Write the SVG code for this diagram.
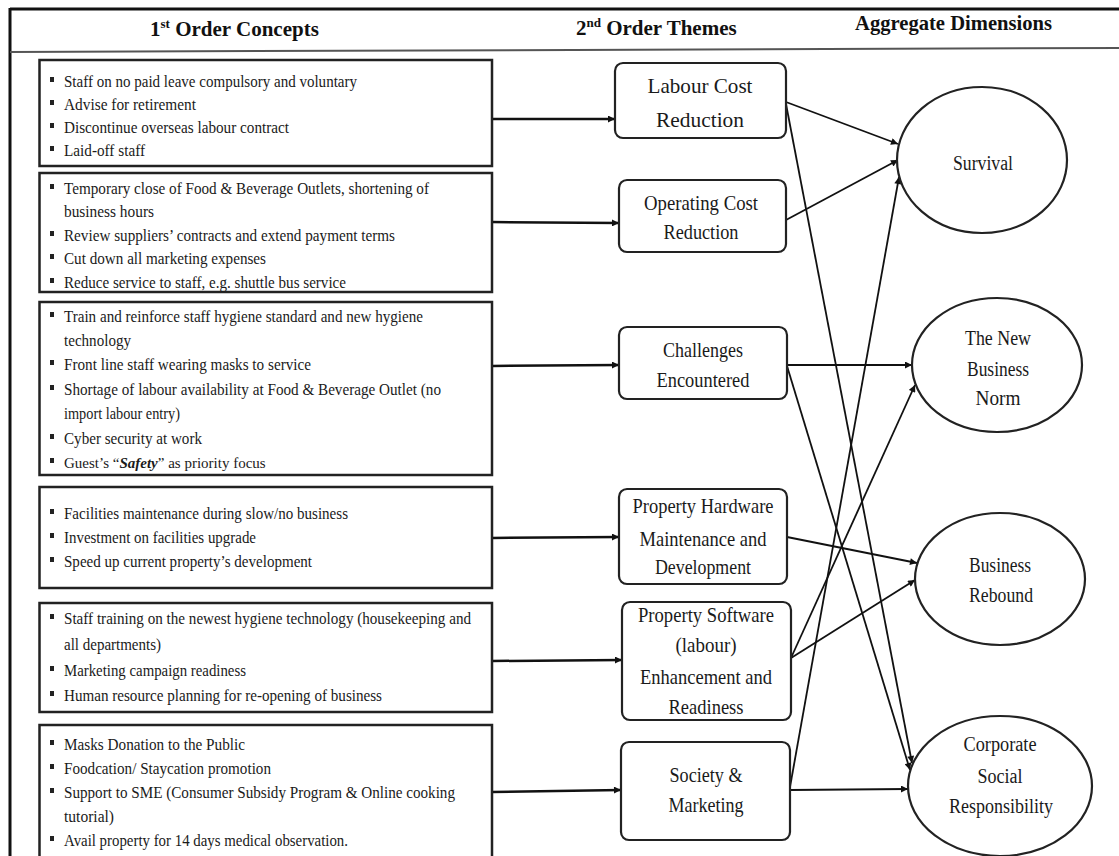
<svg xmlns="http://www.w3.org/2000/svg" width="1119" height="856" viewBox="0 0 1119 856">
<style>
.frame{stroke:#111;stroke-width:3;fill:none}
.sep{stroke:#555;stroke-width:2;fill:none}
.lbox{fill:#fff;stroke:#222;stroke-width:2.5}
.mbox{fill:#fff;stroke:#222;stroke-width:2.2}
.ell{fill:#fff;stroke:#222;stroke-width:2.2}
.hd{font-family:"Liberation Serif","Times New Roman",serif;font-weight:bold;font-size:21px;fill:#111}
.lt{font-family:"Liberation Serif","Times New Roman",serif;font-size:17px;fill:#1a1a1a}
.mt{font-family:"Liberation Serif","Times New Roman",serif;font-size:21px;fill:#1a1a1a;text-anchor:middle}
.et{font-size:20px}
.bul{fill:#222}
.c1{stroke:#111;stroke-width:2.5;fill:none;marker-end:url(#ah)}
.c2{stroke:#111;stroke-width:1.8;fill:none;marker-end:url(#ah)}
</style>
<defs>
<marker id="ah" viewBox="0 0 10 10" refX="10" refY="5" markerWidth="9" markerHeight="7" orient="auto" markerUnits="userSpaceOnUse">
<path d="M0,0 L10,5 L0,10 z" fill="#111"/>
</marker>
</defs>
<rect width="1119" height="856" fill="#fff"/>
<g id="frame">
<line class="frame" x1="10" y1="9" x2="1119" y2="9"/>
<line class="frame" x1="10" y1="8" x2="10" y2="856"/>
<line class="sep" x1="10" y1="52" x2="1119" y2="48"/>
<text class="hd" x="150" y="36">1<tspan font-size="13" dy="-8">st</tspan><tspan dy="8"> Order Concepts</tspan></text>
<text class="hd" x="576" y="35">2<tspan font-size="13" dy="-8">nd</tspan><tspan dy="8"> Order Themes</tspan></text>
<text class="hd" x="855" y="30" textLength="197" lengthAdjust="spacingAndGlyphs">Aggregate Dimensions</text>
</g>
<g id="connectors">
<line class="c1" x1="492" y1="119" x2="615" y2="119"/>
<line class="c1" x1="492" y1="222" x2="619" y2="223"/>
<line class="c1" x1="492" y1="366" x2="619" y2="365"/>
<line class="c1" x1="492" y1="538" x2="619" y2="537"/>
<line class="c1" x1="492" y1="661" x2="622" y2="660"/>
<line class="c1" x1="492" y1="792" x2="621" y2="790"/>
<line class="c2" x1="786" y1="102" x2="898" y2="144"/>
<line class="c2" x1="786" y1="220" x2="898" y2="160"/>
<line class="c2" x1="790" y1="787" x2="899" y2="177"/>
<line class="c2" x1="786" y1="104" x2="912" y2="763"/>
<line class="c2" x1="787" y1="366" x2="910" y2="770"/>
<line class="c2" x1="787" y1="365" x2="912" y2="365"/>
<line class="c2" x1="791" y1="658" x2="915" y2="385"/>
<line class="c2" x1="787" y1="537" x2="917" y2="563"/>
<line class="c2" x1="791" y1="658" x2="915" y2="580"/>
<line class="c2" x1="790" y1="790" x2="908" y2="789"/>
</g>
<g id="c1-labour">
<rect class="lbox" x="39.5" y="60" width="452.5" height="106"/>
<rect class="bul" x="50" y="77" width="4" height="5"/>
<rect class="bul" x="50" y="100" width="4" height="5"/>
<rect class="bul" x="50" y="123" width="4" height="5"/>
<rect class="bul" x="50" y="146" width="4" height="5"/>
<text class="lt" x="64" y="87" textLength="293" lengthAdjust="spacingAndGlyphs">Staff on no paid leave compulsory and voluntary</text>
<text class="lt" x="64" y="110" textLength="132" lengthAdjust="spacingAndGlyphs">Advise  for retirement</text>
<text class="lt" x="64" y="133" textLength="225" lengthAdjust="spacingAndGlyphs">Discontinue overseas labour contract</text>
<text class="lt" x="64" y="156" textLength="81" lengthAdjust="spacingAndGlyphs">Laid-off staff</text>
</g>
<g id="c1-operating">
<rect class="lbox" x="39.5" y="173" width="452.5" height="119"/>
<rect class="bul" x="50" y="184" width="4" height="5"/>
<rect class="bul" x="50" y="231" width="4" height="5"/>
<rect class="bul" x="50" y="254" width="4" height="5"/>
<rect class="bul" x="50" y="278" width="4" height="5"/>
<text class="lt" x="64" y="194" textLength="365" lengthAdjust="spacingAndGlyphs">Temporary close of Food &amp; Beverage Outlets, shortening of</text>
<text class="lt" x="64" y="217" textLength="90" lengthAdjust="spacingAndGlyphs">business hours</text>
<text class="lt" x="64" y="241" textLength="331" lengthAdjust="spacingAndGlyphs">Review suppliers’ contracts and extend payment terms</text>
<text class="lt" x="64" y="264" textLength="202" lengthAdjust="spacingAndGlyphs">Cut down all marketing expenses</text>
<text class="lt" x="64" y="288" textLength="282" lengthAdjust="spacingAndGlyphs">Reduce service to staff, e.g. shuttle bus service</text>
</g>
<g id="c1-challenges">
<rect class="lbox" x="39.5" y="302" width="452.5" height="173"/>
<rect class="bul" x="50" y="312" width="4" height="5"/>
<rect class="bul" x="50" y="360" width="4" height="5"/>
<rect class="bul" x="50" y="385" width="4" height="5"/>
<rect class="bul" x="50" y="434" width="4" height="5"/>
<rect class="bul" x="50" y="458" width="4" height="5"/>
<text class="lt" x="64" y="322" textLength="359" lengthAdjust="spacingAndGlyphs">Train and reinforce staff hygiene standard and new hygiene</text>
<text class="lt" x="64" y="346" textLength="67" lengthAdjust="spacingAndGlyphs">technology</text>
<text class="lt" x="64" y="370" textLength="247" lengthAdjust="spacingAndGlyphs">Front line staff wearing masks to service</text>
<text class="lt" x="64" y="395" textLength="377" lengthAdjust="spacingAndGlyphs">Shortage of labour availability  at Food &amp; Beverage Outlet (no</text>
<text class="lt" x="64" y="419" textLength="116" lengthAdjust="spacingAndGlyphs">import labour entry)</text>
<text class="lt" x="64" y="444" textLength="138" lengthAdjust="spacingAndGlyphs">Cyber security at work</text>
<text class="lt" x="64" y="468" style="font-size:15px">Guest’s “<tspan font-style="italic" font-weight="bold">Safety</tspan>” as priority focus</text>
</g>
<g id="c1-hardware">
<rect class="lbox" x="39.5" y="487" width="452.5" height="101"/>
<rect class="bul" x="50" y="509" width="4" height="5"/>
<rect class="bul" x="50" y="533" width="4" height="5"/>
<rect class="bul" x="50" y="557" width="4" height="5"/>
<text class="lt" x="64" y="519" textLength="284" lengthAdjust="spacingAndGlyphs">Facilities maintenance  during  slow/no business</text>
<text class="lt" x="64" y="543" textLength="192" lengthAdjust="spacingAndGlyphs">Investment  on facilities upgrade</text>
<text class="lt" x="64" y="567" textLength="248" lengthAdjust="spacingAndGlyphs">Speed up current property’s development</text>
</g>
<g id="c1-software">
<rect class="lbox" x="39.5" y="603" width="452.5" height="109"/>
<rect class="bul" x="50" y="614" width="4" height="5"/>
<rect class="bul" x="50" y="666" width="4" height="5"/>
<rect class="bul" x="50" y="691" width="4" height="5"/>
<text class="lt" x="64" y="624" textLength="407" lengthAdjust="spacingAndGlyphs">Staff training on the newest hygiene technology (housekeeping and</text>
<text class="lt" x="64" y="650" textLength="97" lengthAdjust="spacingAndGlyphs">all departments)</text>
<text class="lt" x="64" y="676" textLength="182" lengthAdjust="spacingAndGlyphs">Marketing campaign  readiness</text>
<text class="lt" x="64" y="701" textLength="318" lengthAdjust="spacingAndGlyphs">Human resource planning  for re-opening of business</text>
</g>
<g id="c1-society">
<rect class="lbox" x="39.5" y="725" width="452.5" height="140"/>
<rect class="bul" x="50" y="740" width="4" height="5"/>
<rect class="bul" x="50" y="764" width="4" height="5"/>
<rect class="bul" x="50" y="788" width="4" height="5"/>
<rect class="bul" x="50" y="836" width="4" height="5"/>
<text class="lt" x="64" y="750" textLength="181" lengthAdjust="spacingAndGlyphs">Masks Donation to the Public</text>
<text class="lt" x="64" y="774" textLength="207" lengthAdjust="spacingAndGlyphs">Foodcation/ Staycation promotion</text>
<text class="lt" x="64" y="798" textLength="391" lengthAdjust="spacingAndGlyphs">Support to SME (Consumer Subsidy  Program &amp; Online cooking</text>
<text class="lt" x="64" y="822" textLength="50" lengthAdjust="spacingAndGlyphs">tutorial)</text>
<text class="lt" x="64" y="846" textLength="284" lengthAdjust="spacingAndGlyphs">Avail property for 14 days medical observation.</text>
</g>
<g id="t-labour">
<rect class="mbox" x="615" y="63" width="171" height="75" rx="8"/>
<text class="mt" x="700" y="93" style="font-size:22px" textLength="105" lengthAdjust="spacingAndGlyphs">Labour Cost</text>
<text class="mt" x="700" y="127" style="font-size:22px" textLength="88" lengthAdjust="spacingAndGlyphs">Reduction</text>
</g>
<g id="t-operating">
<rect class="mbox" x="619" y="180" width="167" height="72" rx="8"/>
<text class="mt" x="701" y="210" textLength="114" lengthAdjust="spacingAndGlyphs">Operating Cost</text>
<text class="mt" x="701" y="239" textLength="75" lengthAdjust="spacingAndGlyphs">Reduction</text>
</g>
<g id="t-challenges">
<rect class="mbox" x="619" y="327" width="168" height="72" rx="8"/>
<text class="mt" x="703" y="357" textLength="80" lengthAdjust="spacingAndGlyphs">Challenges</text>
<text class="mt" x="703" y="387" textLength="93" lengthAdjust="spacingAndGlyphs">Encountered</text>
</g>
<g id="t-hardware">
<rect class="mbox" x="619" y="489" width="168" height="95" rx="8"/>
<text class="mt" x="703" y="513" textLength="141" lengthAdjust="spacingAndGlyphs">Property Hardware</text>
<text class="mt" x="703" y="546" textLength="127" lengthAdjust="spacingAndGlyphs">Maintenance  and</text>
<text class="mt" x="703" y="574" textLength="96" lengthAdjust="spacingAndGlyphs">Development</text>
</g>
<g id="t-software">
<rect class="mbox" x="622" y="602" width="169" height="118" rx="8"/>
<text class="mt" x="706" y="622" textLength="136" lengthAdjust="spacingAndGlyphs">Property Software</text>
<text class="mt" x="706" y="652" textLength="61" lengthAdjust="spacingAndGlyphs">(labour)</text>
<text class="mt" x="706" y="684" textLength="132" lengthAdjust="spacingAndGlyphs">Enhancement  and</text>
<text class="mt" x="706" y="714" textLength="75" lengthAdjust="spacingAndGlyphs">Readiness</text>
</g>
<g id="t-society">
<rect class="mbox" x="621" y="742" width="169" height="98" rx="8"/>
<text class="mt" x="706" y="782" textLength="73" lengthAdjust="spacingAndGlyphs">Society &amp;</text>
<text class="mt" x="706" y="812" textLength="75" lengthAdjust="spacingAndGlyphs">Marketing</text>
</g>
<g id="a-survival">
<ellipse class="ell" cx="982" cy="160" rx="85" ry="73"/>
<text class="mt et" x="983" y="170" textLength="60" lengthAdjust="spacingAndGlyphs">Survival</text>
</g>
<g id="a-norm">
<ellipse class="ell" cx="997" cy="365" rx="85" ry="67"/>
<text class="mt et" x="998" y="345" textLength="66" lengthAdjust="spacingAndGlyphs">The New</text>
<text class="mt et" x="998" y="376" textLength="62" lengthAdjust="spacingAndGlyphs">Business</text>
<text class="mt et" x="998" y="405" textLength="45" lengthAdjust="spacingAndGlyphs">Norm</text>
</g>
<g id="a-rebound">
<ellipse class="ell" cx="1000" cy="579" rx="85" ry="66"/>
<text class="mt et" x="1000" y="572" textLength="62" lengthAdjust="spacingAndGlyphs">Business</text>
<text class="mt et" x="1001" y="602" textLength="64" lengthAdjust="spacingAndGlyphs">Rebound</text>
</g>
<g id="a-csr">
<ellipse class="ell" cx="1000" cy="786" rx="92" ry="70"/>
<text class="mt et" x="1000" y="751" textLength="73" lengthAdjust="spacingAndGlyphs">Corporate</text>
<text class="mt et" x="1000" y="783" textLength="45" lengthAdjust="spacingAndGlyphs">Social</text>
<text class="mt et" x="1001" y="813" textLength="104" lengthAdjust="spacingAndGlyphs">Responsibility</text>
</g>
</svg>
